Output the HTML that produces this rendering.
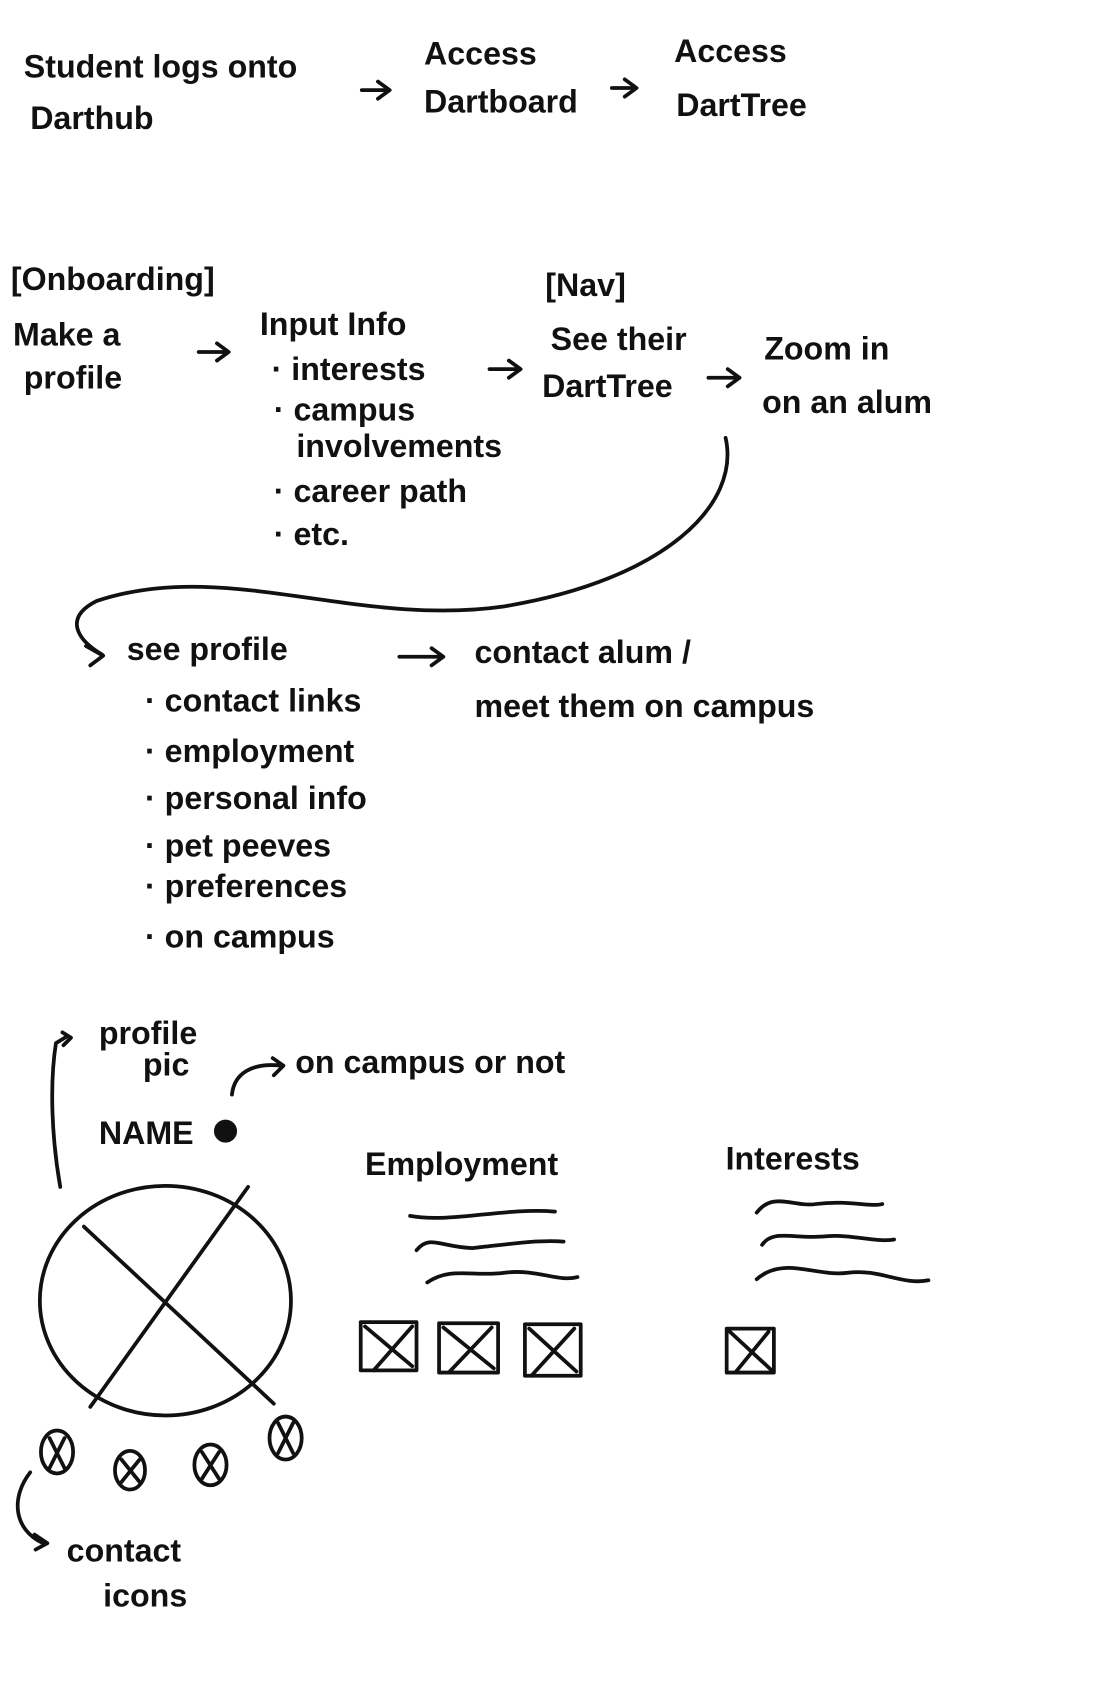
<!DOCTYPE html>
<html><head><meta charset="utf-8"><style>
html,body{margin:0;padding:0;background:#fff;}
svg{display:block}
text{font-family:"Liberation Sans",sans-serif;fill:#111;font-size:30px;font-weight:bold}
</style></head><body>
<svg width="1111" height="1687" viewBox="0 0 1035 1572" xmlns="http://www.w3.org/2000/svg">
<rect width="1035" height="1572" fill="#fff"/>
<g fill="none" stroke="#111" stroke-width="3.5" stroke-linecap="round" stroke-linejoin="round">
<path d="M337 84 L362 84 M352 76 L363 84 L352 92"/>
<path d="M570 82 L592 82 M582 74 L593 82 L582 90"/>
<path d="M185 328 L212 328 M202 320 L213 328 L202 336"/>
<path d="M456 344 L484 344 M474 336 L485 344 L474 352"/>
<path d="M660 352 L688 352 M678 344 L689 352 L678 360"/>
<path d="M676 408 C690 470 620 540 470 565 C330 585 210 520 90 560 C60 575 70 595 95 610"/>
<path d="M80 602 L96 611 L84 620"/>
<path d="M372 612 L412 612 M402 604 L413 612 L402 620"/>
<path d="M56 1106 C48 1060 46 1010 52 972 L62 966 M58 962 L66 967 L59 974"/>
<path d="M216 1020 C218 1000 235 990 262 993 M254 986 L264 993 L255 1002"/>
<circle cx="210" cy="1054" r="9" fill="#111"/>
<ellipse cx="154" cy="1212" rx="117" ry="107"/>
<path d="M78 1143 L255 1308 M231 1106 L84 1311"/>
<ellipse cx="53" cy="1353" rx="15" ry="20"/><path d="M46 1340 L60 1368 M60 1340 L46 1368"/>
<ellipse cx="121" cy="1370" rx="14" ry="18"/><path d="M113 1360 L130 1381 M130 1360 L113 1381"/>
<ellipse cx="196" cy="1365" rx="15" ry="19"/><path d="M188 1353 L204 1378 M204 1353 L188 1378"/>
<ellipse cx="266" cy="1340" rx="15" ry="20"/><path d="M259 1326 L273 1354 M273 1326 L259 1354"/>
<path d="M28 1372 C10 1395 12 1425 40 1438 M32 1430 L44 1438 L33 1444"/>
<path d="M382 1133 C420 1140 470 1125 517 1129"/>
<path d="M388 1165 C400 1150 410 1162 440 1163 C470 1160 500 1155 525 1157"/>
<path d="M398 1195 C420 1180 440 1190 470 1186 C500 1182 520 1195 538 1190"/>
<path d="M705 1130 C720 1110 740 1125 760 1122 C790 1118 810 1125 822 1122"/>
<path d="M710 1160 C720 1145 740 1155 770 1152 C795 1150 815 1158 833 1155"/>
<path d="M705 1192 C730 1170 760 1190 790 1186 C820 1182 840 1198 865 1193"/>
<rect x="336" y="1232" width="52" height="45"/><path d="M340 1236 L384 1273 M384 1236 L348 1277"/>
<rect x="409" y="1233" width="55" height="46"/><path d="M413 1237 L460 1275 M458 1237 L418 1279"/>
<rect x="489" y="1234" width="52" height="48"/><path d="M493 1238 L537 1278 M535 1238 L495 1282"/>
<rect x="677" y="1238" width="44" height="41"/><path d="M680 1241 L718 1276 M716 1241 L685 1279"/>
</g>
<g>
<text x="22" y="72">Student logs onto</text>
<text x="28" y="120" font-size="27">Darthub</text>
<text x="395" y="60">Access</text>
<text x="395" y="105">Dartboard</text>
<text x="628" y="58">Access</text>
<text x="630" y="108">DartTree</text>
<text x="10" y="270">[Onboarding]</text>
<text x="12" y="322">Make a</text>
<text x="22" y="362">profile</text>
<text x="242" y="312">Input Info</text>
<text x="253" y="354" font-size="27">· interests</text>
<text x="255" y="392" font-size="27">· campus</text>
<text x="276" y="426" font-size="27">involvements</text>
<text x="255" y="468" font-size="27">· career path</text>
<text x="255" y="508" font-size="27">· etc.</text>
<text x="508" y="276">[Nav]</text>
<text x="513" y="326">See their</text>
<text x="505" y="370">DartTree</text>
<text x="712" y="335">Zoom in</text>
<text x="710" y="385">on an alum</text>
<text x="118" y="615">see profile</text>
<text x="135" y="663" font-size="27">· contact links</text>
<text x="135" y="710" font-size="27">· employment</text>
<text x="135" y="754" font-size="27">· personal info</text>
<text x="135" y="798" font-size="27">· pet peeves</text>
<text x="135" y="836" font-size="27">· preferences</text>
<text x="135" y="883" font-size="27">· on campus</text>
<text x="442" y="618">contact alum /</text>
<text x="442" y="668">meet them on campus</text>
<text x="92" y="973" font-size="27">profile</text>
<text x="133" y="1002" font-size="27">pic</text>
<text x="275" y="1000" font-size="27">on campus or not</text>
<text x="92" y="1066">NAME</text>
<text x="340" y="1095">Employment</text>
<text x="676" y="1090">Interests</text>
<text x="62" y="1455" font-size="27">contact</text>
<text x="96" y="1497" font-size="27">icons</text>
</g>
</svg>
</body></html>
